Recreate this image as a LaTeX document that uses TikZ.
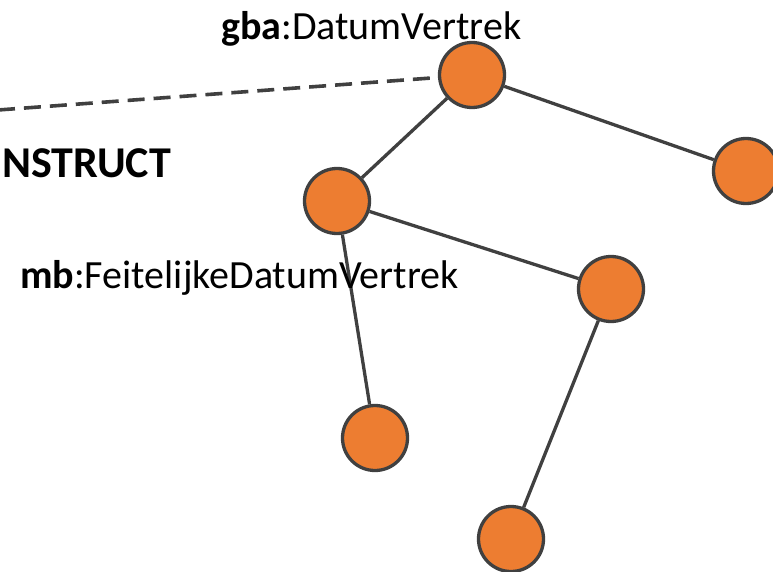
\documentclass[tikz,border=0pt]{standalone}
\usepackage{fontspec}
\setmainfont{Carlito}
\definecolor{orng}{HTML}{ED7D31}
\definecolor{edgegray}{HTML}{404040}
\begin{document}
\begin{tikzpicture}[x=1pt,y=-1pt,
  vtx/.style={circle,fill=orng,draw=edgegray,line width=3.3pt,minimum size=65pt,inner sep=0pt},
  link/.style={draw=edgegray,line width=3.3pt},
  dlink/.style={draw=edgegray,line width=3.6pt,dash pattern=on 17pt off 9pt},
  lbl/.style={anchor=base west,inner sep=0pt,font=\fontsize{40}{42}\selectfont},
  blbl/.style={anchor=base west,inner sep=0pt,font=\fontsize{44}{46}\selectfont\bfseries}]
\useasboundingbox (0,0) rectangle (773,572);
\clip (0,0) rectangle (773,572);
\node[vtx] (A) at (472,75) {};
\node[vtx] (B) at (746,171) {};
\node[vtx] (C) at (337,201) {};
\node[vtx] (D) at (611,289) {};
\node[vtx] (E) at (375,438) {};
\node[vtx] (F) at (511,539) {};
\coordinate (L) at (-2,110);
\draw[link] (A) -- (B);
\draw[link] (A) -- (C);
\draw[link] (C) -- (D);
\draw[link] (C) -- (E);
\draw[link] (D) -- (F);
\draw[dlink] (L) -- (A);
\node[lbl] (t1) at (221,40) {\textbf{gba}:DatumVertrek};
\node[lbl] (t2) at (20,288) {\textbf{mb}:FeitelijkeDatumVertrek};
\node[blbl] (t3) at (2,178) {NSTRUCT};
\end{tikzpicture}
\end{document}
